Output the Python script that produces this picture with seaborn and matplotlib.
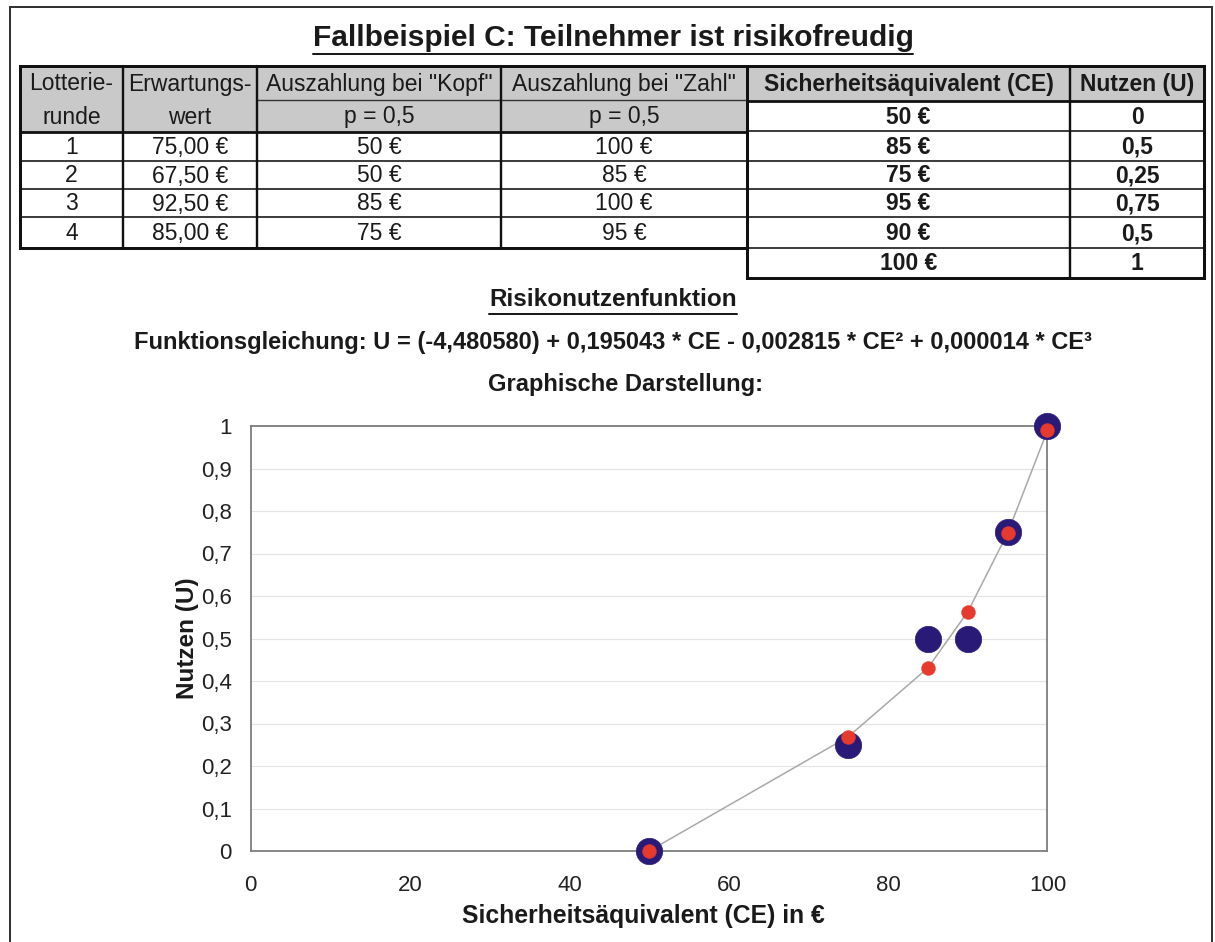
import numpy as np
import pandas as pd
import matplotlib
matplotlib.use("Agg")
import matplotlib.pyplot as plt
import seaborn as sns

# ---- data ---------------------------------------------------------------
runde = ["1", "2", "3", "4"]
erwartungswert = ["75,00 €", "67,50 €", "92,50 €", "85,00 €"]
kopf = ["50 €", "50 €", "85 €", "75 €"]
zahl = ["100 €", "85 €", "100 €", "95 €"]

ce_values = [50, 85, 75, 95, 90, 100]
u_values = [0, 0.5, 0.25, 0.75, 0.5, 1]

fit_ce = [50, 75, 85, 90, 95, 100]
fit_u = [0.0, 0.269, 0.431, 0.563, 0.748, 0.99]

x_ticks = [0, 20, 40, 60, 80, 100]
y_ticks = [0, 0.1, 0.2, 0.3, 0.4, 0.5, 0.6, 0.7, 0.8, 0.9, 1.0]

title = "Fallbeispiel C: Teilnehmer ist risikofreudig"
subtitle = "Risikonutzenfunktion"
equation = ("Funktionsgleichung: U = (-4,480580) + 0,195043 * CE - 0,002815 * CE² "
            "+ 0,000014 * CE³")
plot_caption = "Graphische Darstellung:"


def de(v):
    return f"{v:g}".replace(".", ",")


# ---- figure ---------------------------------------------------------------
sns.set_theme(style="white")
plt.rcParams["font.family"] = ["Liberation Sans", "DejaVu Sans"]

W, H = 1215, 942
fig = plt.figure(figsize=(W / 100, H / 100), dpi=100, facecolor="white")

# overlay in pixel coordinates for the table and headings
ov = fig.add_axes([0, 0, 1, 1], zorder=0)
ov.set_xlim(0, W)
ov.set_ylim(H, 0)
ov.axis("off")
ov.patch.set_alpha(0)

PX = 0.72  # one pixel in points
BLACK = "#111111"
GREY_FILL = "#c9c9c9"
TXT = "#1a1a1a"

# page frame
ov.plot([10, 10, 1212, 1212], [H + 5, 7, 7, H + 5], color="#333333", lw=2 * PX,
        solid_joinstyle="miter")

# headings
t_title = ov.text(613, 38, title, ha="center", va="center", fontsize=21.5,
                  fontweight="bold", color=TXT)
t_sub = ov.text(613, 300, subtitle, ha="center", va="center", fontsize=17.5,
                fontweight="bold", color=TXT)
ov.text(613, 343, equation, ha="center", va="center", fontsize=17,
        fontweight="bold", color=TXT)
ov.text(625, 385, plot_caption, ha="center", va="center", fontsize=17,
        fontweight="bold", color=TXT)

# ---- table ------------------------------------------------------------------
lx = [20, 123, 257, 501, 747]
rx = [747, 1070, 1204]
top, sub_y, head_bot = 66, 100, 132
row_y = [132, 161, 189, 217, 248]
r_row_y = [101, 131, 161, 189, 217, 248, 278]

# grey header fills
ov.add_patch(plt.Rectangle((lx[0], top), lx[-1] - lx[0], head_bot - top,
                           facecolor=GREY_FILL, edgecolor="none", zorder=1))
ov.add_patch(plt.Rectangle((rx[0], top), rx[-1] - rx[0], r_row_y[0] - top,
                           facecolor=GREY_FILL, edgecolor="none", zorder=1))

# inner row lines
for y in row_y[1:-1]:
    ov.plot([lx[0], lx[-1]], [y, y], color=BLACK, lw=1.6 * PX, zorder=2)
for y in r_row_y[1:-1]:
    ov.plot([rx[0], rx[-1]], [y, y], color=BLACK, lw=1.6 * PX, zorder=2)
ov.plot([lx[2], lx[4]], [sub_y, sub_y], color="#333333", lw=1.4 * PX, zorder=2)

# column separators and header rules
for x in lx[1:-1]:
    ov.plot([x, x], [top, row_y[-1]], color=BLACK, lw=2.4 * PX, zorder=3)
ov.plot([rx[1], rx[1]], [top, r_row_y[-1]], color=BLACK, lw=2.4 * PX, zorder=3)
ov.plot([lx[0], lx[-1]], [head_bot, head_bot], color=BLACK, lw=2.8 * PX, zorder=3)
ov.plot([rx[0], rx[-1]], [r_row_y[0], r_row_y[0]], color=BLACK, lw=2.8 * PX, zorder=3)

# outer borders
ov.add_patch(plt.Rectangle((lx[0], top), lx[-1] - lx[0], row_y[-1] - top,
                           facecolor="none", edgecolor=BLACK, lw=3 * PX, zorder=4,
                           joinstyle="miter"))
ov.add_patch(plt.Rectangle((rx[0], top), rx[-1] - rx[0], r_row_y[-1] - top,
                           facecolor="none", edgecolor=BLACK, lw=3 * PX, zorder=4,
                           joinstyle="miter"))

TFS = 16.5


def cell(x0, x1, y0, y1, s, bold=False):
    ov.text((x0 + x1) / 2, (y0 + y1) / 2 + 1, s, ha="center", va="center",
            fontsize=TFS, fontweight="bold" if bold else "normal", color=TXT, zorder=5)


cell(lx[0], lx[1], top, sub_y, "Lotterie-")
cell(lx[0], lx[1], sub_y, head_bot, "runde")
cell(lx[1], lx[2], top, sub_y, "Erwartungs-")
cell(lx[1], lx[2], sub_y, head_bot, "wert")
cell(lx[2], lx[3], top, sub_y, 'Auszahlung bei "Kopf"')
cell(lx[2], lx[3], sub_y, head_bot, "p = 0,5")
cell(lx[3], lx[4], top, sub_y, 'Auszahlung bei "Zahl"')
cell(lx[3], lx[4], sub_y, head_bot, "p = 0,5")
cell(rx[0], rx[1], top, r_row_y[0], "Sicherheitsäquivalent (CE)", bold=True)
cell(rx[1], rx[2], top, r_row_y[0], "Nutzen (U)", bold=True)

for i in range(len(runde)):
    y0, y1 = row_y[i], row_y[i + 1]
    cell(lx[0], lx[1], y0, y1, runde[i])
    cell(lx[1], lx[2], y0, y1, erwartungswert[i])
    cell(lx[2], lx[3], y0, y1, kopf[i])
    cell(lx[3], lx[4], y0, y1, zahl[i])

for i, (c, u) in enumerate(zip(ce_values, u_values)):
    y0, y1 = r_row_y[i], r_row_y[i + 1]
    cell(rx[0], rx[1], y0, y1, f"{c} €", bold=True)
    cell(rx[1], rx[2], y0, y1, de(u), bold=True)

# ---- chart ------------------------------------------------------------------
ax = fig.add_axes([250.7 / W, (H - 851) / H, 796.8 / W, 425 / H], zorder=2)
ax.set_facecolor("white")

obs = pd.DataFrame({"CE": ce_values, "U": u_values})
fit = pd.DataFrame({"CE": fit_ce, "U": fit_u})

LINE = "#a9a9a9"
sns.lineplot(data=fit, x="CE", y="U", ax=ax, color=LINE, lw=1.1, zorder=2)
sns.scatterplot(data=obs, x="CE", y="U", ax=ax, color="#2a1a78", s=360,
                edgecolor="#2a1a78", linewidth=0.5, zorder=3, clip_on=False)
sns.scatterplot(data=fit, x="CE", y="U", ax=ax, color="#e63a2e", s=100,
                edgecolor="#e63a2e", linewidth=0.3, zorder=4, clip_on=False)

ax.set_xlim(0, 100)
ax.set_ylim(0, 1)
ax.set_xticks(x_ticks)
ax.set_xticklabels([de(v) for v in x_ticks])
ax.set_yticks(y_ticks)
ax.set_yticklabels([de(round(v, 1)) for v in y_ticks])
ax.yaxis.grid(True, color="#e4e4e4", lw=1.2 * PX)
ax.xaxis.grid(False)
ax.set_axisbelow(True)

SP = "#7d7d7d"
for side, sp in ax.spines.items():
    sp.set_visible(True)
    sp.set_color(SP)
    sp.set_linewidth(1.8 * PX)
ax.tick_params(axis="both", direction="out", length=5.5, width=1.3 * PX, color=SP,
               labelsize=16, labelcolor="#222222")
ax.tick_params(axis="x", pad=12)
ax.tick_params(axis="y", pad=8)

ax.set_xlabel("Sicherheitsäquivalent (CE) in €", fontsize=17.8, fontweight="bold",
              color=TXT)
ax.set_ylabel("Nutzen (U)", fontsize=17.5, fontweight="bold", color=TXT)
ax.xaxis.set_label_coords((643 - 250.7) / 796.8, -0.125)
ax.yaxis.set_label_coords((199 - 250.7) / 796.8, 0.5)

# underlines below the two headings
fig.canvas.draw()
inv = ov.transData.inverted()
for t, off in ((t_title, 2), (t_sub, 2)):
    bb = t.get_window_extent()
    (x0, yb), (x1, _) = inv.transform([[bb.x0, bb.y0], [bb.x1, bb.y1]])
    ov.plot([x0, x1], [yb + off, yb + off], color=TXT, lw=2 * PX)

fig.savefig("out.png", dpi=100, facecolor="white")
